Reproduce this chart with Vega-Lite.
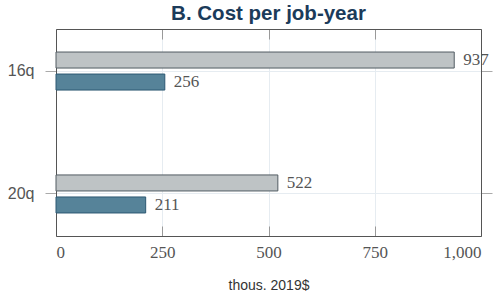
{
  "$schema": "https://vega.github.io/schema/vega-lite/v6.json",
  "width": 425,
  "height": 207,
  "autosize": "none",
  "padding": {"left": 56, "top": 29, "right": 22, "bottom": 58},
  "title": {
    "text": "B. Cost per job-year",
    "font": "Liberation Sans",
    "fontSize": 20.5,
    "fontWeight": "bold",
    "color": "#1b3b5a",
    "anchor": "middle",
    "offset": 4
  },
  "data": {
    "values": [
      {"cat": "16q", "series": "total", "value": 937},
      {"cat": "16q", "series": "direct", "value": 256},
      {"cat": "20q", "series": "total", "value": 522},
      {"cat": "20q", "series": "direct", "value": 211}
    ]
  },
  "resolve": {"axis": {"x": "independent", "y": "independent"}},
  "layer": [
    {
      "mark": {"type": "bar", "strokeWidth": 1},
      "encoding": {
        "y": {
          "field": "cat", "type": "nominal", "sort": ["16q", "20q"],
          "scale": {"paddingInner": 0.642, "paddingOuter": 0.163},
          "axis": {
            "orient": "left", "title": null, "bandPosition": 0.5,
            "grid": true, "gridColor": "#e6ecf1", "gridWidth": 1,
            "domainColor": "#555", "tickColor": "#aaa", "tickSize": 11,
            "labelFont": "Liberation Sans", "labelFontSize": 16, "labelColor": "#555",
            "labelPadding": 11
          }
        },
        "yOffset": {
          "field": "series", "type": "nominal", "sort": ["total", "direct"],
          "scale": {"paddingInner": 0.273, "paddingOuter": 0.136}
        },
        "x": {
          "field": "value", "type": "quantitative",
          "scale": {"domain": [0, 1000], "nice": false},
          "axis": {
            "orient": "bottom", "values": [0, 250, 500, 750, 1000], "format": ",.0f",
            "title": "thous. 2019$",
            "titleFont": "Liberation Sans", "titleFontSize": 14, "titleFontWeight": "normal",
            "titleColor": "#333", "titlePadding": 18,
            "grid": true, "gridColor": "#e6ecf1", "gridWidth": 1,
            "domainColor": "#555", "tickColor": "#999", "tickSize": -10,
            "labelFont": "Liberation Serif", "labelFontSize": 17, "labelColor": "#555",
            "labelPadding": 18
          }
        },
        "fill": {
          "field": "series", "type": "nominal",
          "scale": {"domain": ["total", "direct"], "range": ["#bec3c5", "#568399"]},
          "legend": null
        },
        "stroke": {
          "field": "series", "type": "nominal",
          "scale": {"domain": ["total", "direct"], "range": ["#525c63", "#2c5872"]},
          "legend": null
        }
      }
    },
    {
      "mark": {
        "type": "text", "align": "left", "baseline": "middle", "dx": 9,
        "font": "Liberation Serif", "fontSize": 17, "color": "#555"
      },
      "encoding": {
        "y": {
          "field": "cat", "type": "nominal", "sort": ["16q", "20q"],
          "axis": {
            "orient": "right", "title": null, "labels": false, "grid": false,
            "bandPosition": 0.5,
            "domainColor": "#555", "tickColor": "#aaa", "tickSize": 11
          }
        },
        "yOffset": {"field": "series", "type": "nominal", "sort": ["total", "direct"]},
        "x": {
          "field": "value", "type": "quantitative",
          "axis": {
            "orient": "top", "title": null, "labels": false, "grid": false,
            "values": [0, 250, 500, 750, 1000],
            "domainColor": "#555", "tickColor": "#999", "tickSize": -10
          }
        },
        "text": {"field": "value", "type": "quantitative", "format": ",.0f"}
      }
    }
  ],
  "config": {"view": {"stroke": null}, "background": "white"}
}
